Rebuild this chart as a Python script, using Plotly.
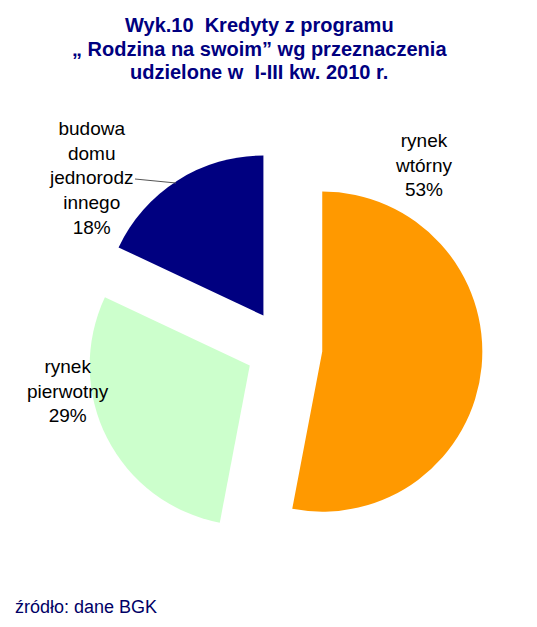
import plotly.graph_objects as go

# the page has an 8px body margin, so the figure is drawn 8px in from the corner
OFF = 8
W, H = 537 - OFF, 627 - OFF

categories = ["rynek wtórny", "rynek pierwotny", "budowa domu jednorodzinnego"]
shares = [53, 29, 18]
colors = ["#FF9900", "#CCFFCC", "#000080"]
label_texts = [
    "rynek<br>wtórny<br>53%",
    "rynek<br>pierwotny<br>29%",
    "budowa<br>domu<br>jednorodz<br>innego<br>18%",
]
# label centres in reference pixels (x, y from top)
label_pos = [(423, 165), (68, 391), (91, 178)]

title_lines = [
    "Wyk.10  Kredyty z programu",
    "„ Rodzina na swoim” wg przeznaczenia",
    "udzielone w  I-III kw. 2010 r.",
]
title_y = [25, 49, 72]
source_text = "źródło: dane BGK"


def px(x):
    return (x - OFF) / W


def py(y):
    return 1 - (y - OFF) / H


# pie centre (284, 348), radius 160, pull 0.24 -> box 397px
cx, cy, box = 284, 348, 397

fig = go.Figure()
fig.add_trace(go.Pie(
    labels=categories,
    values=shares,
    marker=dict(colors=colors, line=dict(width=0)),
    sort=False,
    direction="clockwise",
    rotation=0,
    pull=[0.24, 0.24, 0.24],
    textinfo="none",
    hoverinfo="label+percent",
    showlegend=False,
    domain=dict(x=[px(cx - box / 2), px(cx + box / 2)],
                y=[py(cy + box / 2), py(cy - box / 2)]),
))

for txt, (x, y) in zip(label_texts, label_pos):
    fig.add_annotation(
        text=txt, x=px(x), y=py(y), xref="paper", yref="paper",
        showarrow=False, xanchor="center", yanchor="middle", align="center",
        font=dict(family="Liberation Sans, Arial", size=19, color="#000000"),
    )

# leader line for the navy slice label
fig.add_shape(type="line", xref="paper", yref="paper",
              x0=px(135), y0=py(179), x1=px(176), y1=py(183),
              line=dict(color="#555555", width=1))

for line, y in zip(title_lines, title_y):
    fig.add_annotation(
        text="<b>" + line + "</b>", x=px(259), y=py(y),
        xref="paper", yref="paper", showarrow=False,
        xanchor="center", yanchor="middle", align="center",
        font=dict(family="Liberation Sans, Arial", size=20, color="#000080"),
    )

fig.add_annotation(
    text=source_text, x=px(13), y=py(607), xref="paper", yref="paper",
    showarrow=False, xanchor="left", yanchor="middle",
    font=dict(family="Liberation Sans, Arial", size=18, color="#000066"),
)

fig.update_layout(
    width=W, height=H,
    margin=dict(l=0, r=0, t=0, b=0),
    paper_bgcolor="white",
    plot_bgcolor="white",
)

fig.write_html("out.html")
